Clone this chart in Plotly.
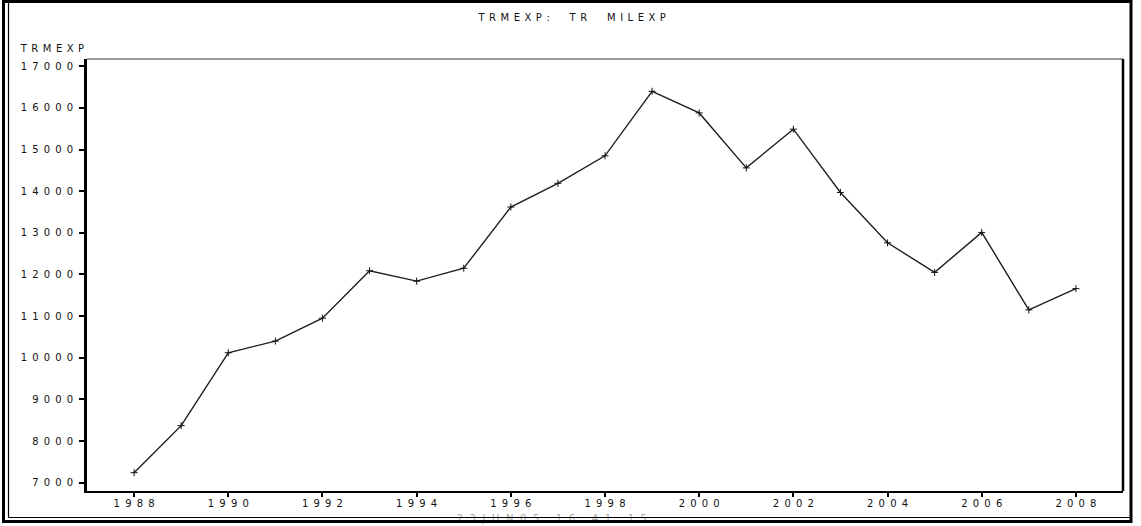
import plotly.graph_objects as go

# Annual series TRMEXP (TR MILEXP), 1988-2008
years = list(range(1988, 2009))
trmexp = [7240, 8370, 10120, 10400, 10950, 12090, 11840, 12150, 13620, 14190,
          14850, 16400, 15880, 14560, 15490, 13970, 12760, 12050, 13010, 11150,
          11660]
x_ticks = list(range(1988, 2009, 2))
y_ticks = list(range(7000, 17001, 1000))

title_text = "TRMEXP:  TR  MILEXP"
y_label = "TRMEXP"
stamp_text = "23JUN05:16:41:15"

W, H = 1141, 526
L, R, T, B = 87, 1123, 59, 491  # plot-area edges in pixels


def px(x):
    return (x - L) / (R - L)


def py(y):
    return (B - y) / (B - T)


FONT = dict(family="DejaVu Sans", size=10, color="#111111")

fig = go.Figure()
fig.add_trace(go.Scatter(
    x=years, y=trmexp, mode="lines+markers",
    line=dict(color="#1e1e1e", width=1.4),
    marker=dict(symbol="cross-thin", size=5, line=dict(color="#111111", width=1)),
    showlegend=False, hoverinfo="skip",
))

shapes = [
    # plot frame: grey top edge, black right edge
    dict(type="line", xref="paper", yref="paper", x0=0, x1=1, y0=1, y1=1,
         line=dict(color="#777777", width=1.5)),
    dict(type="line", xref="paper", yref="paper", x0=1, x1=1, y0=0, y1=1,
         line=dict(color="#000000", width=2.5)),
    # page border (thick outer + thin inner)
    dict(type="rect", xref="paper", yref="paper",
         x0=px(3.5), x1=px(1131), y0=py(1.5), y1=py(521.5),
         line=dict(color="#000000", width=3), layer="above"),
    dict(type="line", xref="paper", yref="paper",
         x0=px(8.5), x1=px(8.5), y0=py(1.5), y1=py(517.5),
         line=dict(color="#000000", width=1.2), layer="above"),
    dict(type="line", xref="paper", yref="paper",
         x0=px(8.5), x1=px(1131), y0=py(517.5), y1=py(517.5),
         line=dict(color="#000000", width=1.2), layer="above"),
]

annotations = [
    dict(text=title_text, xref="paper", yref="paper", x=px(571.7), y=py(18),
         xanchor="center", yanchor="middle", showarrow=False, font=FONT),
    dict(text=y_label, xref="paper", yref="paper", x=px(51.9), y=py(48.3),
         xanchor="center", yanchor="middle", showarrow=False, font=FONT),
    dict(text=stamp_text, xref="paper", yref="paper", x=px(551.7), y=py(518),
         xanchor="center", yanchor="middle", showarrow=False,
         font=dict(family="DejaVu Sans", size=10, color="#a8a8a8")),
]

fig.update_layout(
    width=W, height=H,
    margin=dict(l=L, r=W - R, t=T, b=H - B, pad=0),
    paper_bgcolor="white", plot_bgcolor="white",
    font=FONT,
    shapes=shapes, annotations=annotations,
    xaxis=dict(range=[1987, 2009], tickvals=x_ticks, tickformat="d",
               ticks="outside", ticklen=4, tickwidth=1.5, tickcolor="#000",
               showline=True, linecolor="#000", linewidth=2, showgrid=False,
               zeroline=False, tickfont=FONT, ticklabelstandoff=-2),
    yaxis=dict(range=[6800, 17175], tickvals=y_ticks, tickformat="d",
               ticks="outside", ticklen=5, tickwidth=1.5, tickcolor="#000",
               showline=True, linecolor="#000", linewidth=2.5, showgrid=False,
               zeroline=False, tickfont=FONT, ticklabelstandoff=4),
)

# Widen the character pitch of all labels, keep them centred/aligned,
# and tuck the time stamp under the page border.
post = """
(function(){
  document.body.style.margin = '0';
  var gd = document.getElementById('{plot_id}');
  function spread(){
    gd.querySelectorAll('text').forEach(function(t){
      var s = t.textContent || '';
      var ls;
      if (s.indexOf('23JUN05') === 0) ls = 6.6;
      else if (/^[0-9]+$/.test(s)) ls = 5.2;
      else ls = 4.5;
      t.style.letterSpacing = ls + 'px';
      var a = t.getAttribute('text-anchor') || 'start';
      if (a === 'middle') t.setAttribute('dx', ls / 2);
      else if (a === 'end') t.setAttribute('dx', ls);
    });
    var stamp = Array.prototype.find.call(gd.querySelectorAll('g.annotation'),
      function(g){ return (g.textContent || '').indexOf('23JUN05') === 0; });
    var above = gd.querySelector('svg.main-svg g.layer-above');
    if (stamp && above) above.parentNode.insertBefore(stamp, above);
  }
  spread();
})();
"""

fig.write_html("out.html", config={"displayModeBar": False, "responsive": False},
               post_script=post)
